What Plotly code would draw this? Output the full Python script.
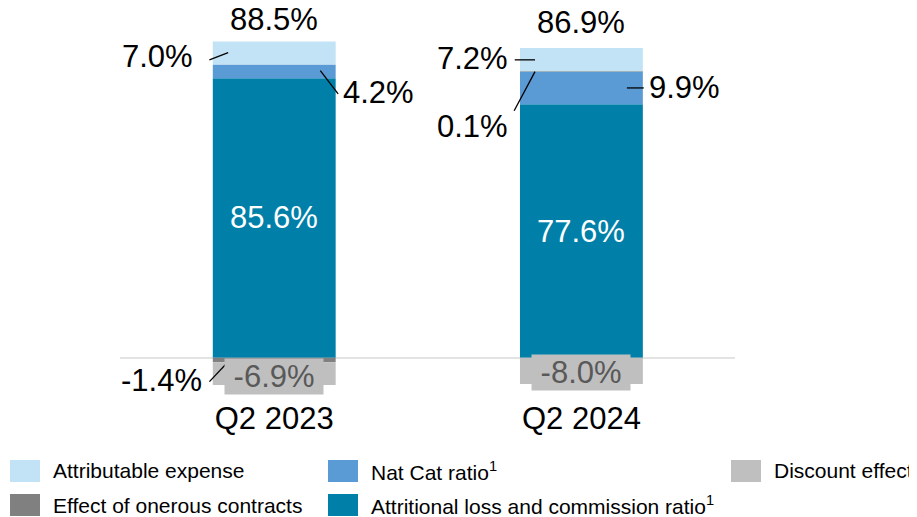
import plotly.graph_objects as go

# data (in %)
quarters = ["Q2 2023", "Q2 2024"]
attritional = [85.6, 77.6]
nat_cat = [4.2, 9.9]
onerous = [-1.4, 0.1]
discount = [-6.9, -8.0]
attributable = [7.0, 7.2]
combined = [88.5, 86.9]

# page body has an 8px margin, so the figure is a bit smaller than the window
OFF = 8
W, H = 917 - OFF, 517 - OFF
L, R, T, B = 120 - OFF, 182, 0, 120
Y_RANGE = [-12, -12 + (H - T - B) / 3.267]
FONT = "Liberation Sans, Arial, sans-serif"

C_ATTRIB = "#c1e3f5"
C_NATCAT = "#5b9bd5"
C_ATTRIT = "#0080a8"
C_DISC = "#bfbfbf"
C_ONER = "#808080"


def px_x(px):
    # window pixel -> paper fraction
    return (px - OFF - L) / (W - L - R)


def px_y(py):
    return (H - B - (py - OFF)) / (H - T - B)


def pct(v):
    return f"{v:.1f}%"


fig = go.Figure()

# trace order matters for relative stacking
series = [
    ("Attritional loss and commission ratio<sup>1</sup>", attritional, C_ATTRIT),
    ("Nat Cat ratio<sup>1</sup>", nat_cat, C_NATCAT),
    ("Effect of onerous contracts", onerous, C_ONER),
    ("Discount effect", discount, C_DISC),
    ("Attributable expense", attributable, C_ATTRIB),
]
for name, vals, col in series:
    fig.add_trace(go.Bar(
        x=quarters, y=vals, name=name,
        marker=dict(color=col, line=dict(width=0)),
        showlegend=False,
    ))

tops = [sum(v for v in s if v > 0) for s in zip(attritional, nat_cat, onerous, attributable)]

annotations = []
shapes = []


def label(x, y, text, color="black", bg=None):
    annotations.append(dict(
        x=x, y=y, xref="x", yref="y", text=text, showarrow=False,
        xanchor="center", yanchor="middle",
        font=dict(family=FONT, size=31, color=color),
        bgcolor=bg, borderpad=0,
    ))


def leader(x0, y0, x1, y1):
    shapes.append(dict(type="line", xref="x", yref="y",
                       x0=x0, y0=y0, x1=x1, y1=y1,
                       line=dict(color="black", width=1.3)))


# Q2 2023
label(0, tops[0] + 6.7, pct(combined[0]))
label(-0.38, 92.1, pct(attributable[0]))
leader(-0.211, 91.2, -0.150, 93.4)
label(0.341, 81.1, pct(nat_cat[0]))
leader(0.150, 87.9, 0.208, 80.8)
label(0, attritional[0] / 2, pct(attritional[0]), color="white")
label(0, -5.8, "&nbsp;" + pct(discount[0]) + "&nbsp;", color="#595959", bg=C_DISC)
label(-0.367, -7.0, pct(onerous[0]))
leader(-0.211, -7.3, -0.150, -1.2)

# Q2 2024
label(1, tops[1] + 7.7, pct(combined[1]))
label(0.647, 91.5, pct(attributable[1]))
leader(0.783, 91.2, 0.849, 91.2)
label(1.337, 82.6, pct(nat_cat[1]))
leader(1.148, 82.6, 1.203, 82.6)
label(0.644, 70.7, pct(onerous[1]))
leader(0.781, 75.6, 0.849, 87.6)
label(1, attritional[1] / 2, pct(attritional[1]), color="white")
label(1, -4.4, "&nbsp;" + pct(discount[1]) + "&nbsp;", color="#595959", bg=C_DISC)

# manual legend (big square swatches, 3 + 2 layout); positions in window pixels
legend_items = [
    ("Attributable expense", C_ATTRIB, 10, 471),
    ("Nat Cat ratio<sup>1</sup>", C_NATCAT, 328, 471),
    ("Discount effect", C_DISC, 731, 471),
    ("Effect of onerous contracts", C_ONER, 10, 505),
    ("Attritional loss and commission ratio<sup>1</sup>", C_ATTRIT, 328, 505),
]
for text, col, lx, ly in legend_items:
    shapes.append(dict(type="rect", xref="paper", yref="paper",
                       x0=px_x(lx), x1=px_x(lx + 30),
                       y0=px_y(ly + 11), y1=px_y(ly - 11),
                       fillcolor=col, line=dict(width=0)))
    annotations.append(dict(
        x=px_x(lx + 41), y=px_y(ly), xref="paper", yref="paper",
        text=text, showarrow=False, xanchor="left", yanchor="middle",
        font=dict(family=FONT, size=21, color="black"),
    ))

fig.update_layout(
    barmode="relative",
    bargap=0.6,
    width=W, height=H,
    margin=dict(l=L, r=R, t=T, b=B),
    plot_bgcolor="white",
    paper_bgcolor="white",
    font=dict(family=FONT, size=31, color="black"),
    xaxis=dict(showgrid=False, showline=False, ticks="",
               tickfont=dict(size=31, color="black")),
    yaxis=dict(range=Y_RANGE, showgrid=False, showticklabels=False,
               zeroline=True, zerolinecolor="#e3e3e3", zerolinewidth=2),
    annotations=annotations,
    shapes=shapes,
)

fig.write_html("out.html")
